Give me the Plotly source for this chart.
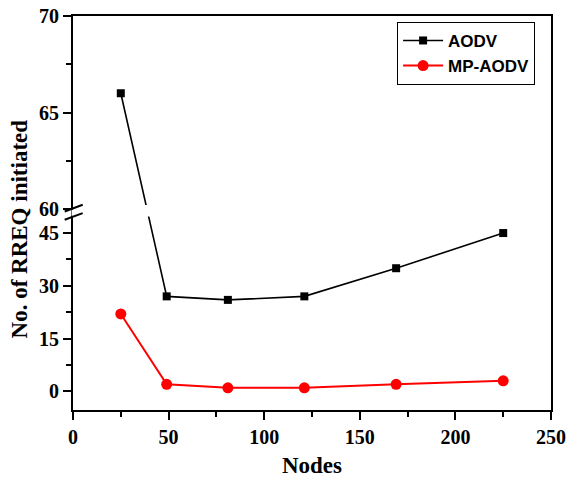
import plotly.graph_objects as go

# ---- data ----
nodes = [25, 49, 81, 121, 169, 225]
aodv = [66, 27, 26, 27, 35, 45]
mp_aodv = [22, 2, 1, 1, 2, 3]

y_major_ticks = [0, 15, 30, 45, 60, 65, 70]
y_minor_ticks = [7.5, 22.5, 37.5, 62.5, 67.5]
x_ticks = [0, 50, 100, 150, 200, 250]
x_minor_ticks = [25, 75, 125, 175, 225]

# ---- broken y-axis definition (lower part 0..~50, upper part 60..70) ----
BREAK_HIGH = 60.0     # bottom of upper segment
UPPER_POS = 51.8      # axis position where the upper segment starts
UPPER_SCALE = 5.49    # upper segment stretch relative to lower


def to_axis(v):
    if v >= BREAK_HIGH:
        return UPPER_POS + (v - BREAK_HIGH) * UPPER_SCALE
    return v


serif = "Liberation Serif"
sans = "Liberation Sans"

fig = go.Figure()
fig.add_trace(go.Scatter(
    x=nodes, y=[to_axis(v) for v in aodv], name="AODV",
    mode="lines+markers",
    line=dict(color="black", width=1.6),
    marker=dict(symbol="square", size=8, color="black"),
))
fig.add_trace(go.Scatter(
    x=nodes, y=[to_axis(v) for v in mp_aodv], name="MP-AODV",
    mode="lines+markers",
    line=dict(color="#ff0000", width=2),
    marker=dict(symbol="circle", size=11, color="#ff0000"),
))

# gap in line and axis at the break
fig.add_shape(type="rect", xref="paper", yref="y", x0=0.004, x1=0.3,
              y0=49.7, y1=53.0, fillcolor="white", line_width=0, layer="above")
fig.add_shape(type="rect", xref="paper", yref="y", x0=-0.003, x1=0.004,
              y0=49.9, y1=51.6, fillcolor="white", line_width=0, layer="above")
# break marks
for (ya, yb) in [(51.14, 53.04), (48.78, 50.68)]:
    fig.add_shape(type="line", xref="paper", yref="y", x0=-0.0174, x1=0.0203,
                  y0=ya, y1=yb, line=dict(color="black", width=2), layer="above")

# y-axis title
fig.add_annotation(
    text="No. of RREQ initiated", textangle=-90,
    xref="paper", yref="paper", x=-0.1115, y=0.46,
    xanchor="center", yanchor="middle", showarrow=False,
    font=dict(family=serif, size=23, color="black", weight="bold"),
)

fig.update_layout(
    width=568, height=478,
    margin=dict(l=73, r=17, t=16, b=68),
    paper_bgcolor="white", plot_bgcolor="white",
    showlegend=True,
    legend=dict(
        x=0.678, y=0.985, xanchor="left", yanchor="top",
        bordercolor="black", borderwidth=1, bgcolor="white",
        font=dict(family=sans, size=17, color="black", weight="bold"),
        tracegroupgap=0, itemwidth=40,
    ),
)

fig.update_xaxes(
    range=[0, 250], tickmode="array", tickvals=x_ticks, automargin=False,
    ticks="outside", ticklen=8, tickwidth=2, tickcolor="black",
    minor=dict(tickmode="array", tickvals=x_minor_ticks,
               ticks="outside", ticklen=5, tickwidth=2, tickcolor="black"),
    showline=True, linewidth=2, linecolor="black", mirror=True,
    showgrid=False, zeroline=False,
    tickfont=dict(family=serif, size=20, color="black", weight="bold"),
    title=dict(text="Nodes", standoff=20,
               font=dict(family=serif, size=23, color="black", weight="bold")),
)

fig.update_yaxes(
    range=[-5.3, to_axis(70)], tickmode="array", automargin=False,
    tickvals=[to_axis(v) for v in y_major_ticks],
    ticktext=[str(v) for v in y_major_ticks],
    ticks="outside", ticklen=8, tickwidth=2, tickcolor="black",
    minor=dict(tickmode="array", tickvals=[to_axis(v) for v in y_minor_ticks],
               ticks="outside", ticklen=5, tickwidth=2, tickcolor="black"),
    showline=True, linewidth=2, linecolor="black", mirror=True,
    showgrid=False, zeroline=False,
    tickfont=dict(family=serif, size=20, color="black", weight="bold"),
)

fig.write_html("out.html")
